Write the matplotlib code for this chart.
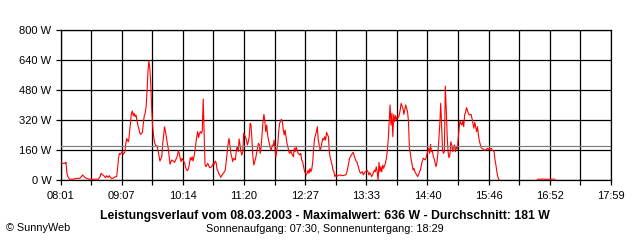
import matplotlib
matplotlib.use("Agg")
import matplotlib.pyplot as plt
import numpy as np

# ---- data (minutes after midnight, watts) ----
times_main = [481,483,486,487,488,489,491,495,498,502,504,505,507,510,513,518,522,524,525,526,
528,529,530,531,533,534,536,538,540,542,543,544,545,546,548,549,550,551,552,553,
554,555,556,557,558,559,560,561,562,563,564,565,566,567,568,570,571,572,573,574,
575,576,577,578,579,580,581,582,583,584,585,586,587,588,589,591,592,593,594,595,
596,597,598,599,600,601,602,604,605,606,607,608,609,610,611,612,613,614,616,617,
618,619,620,621,622,623,624,625,626,627,629,630,631,632,633,634,635,636,637,638,
639,640,641,642,643,644,646,647,648,649,650,651,652,653,654,655,656,658,659,660,
661,662,663,664,665,666,667,668,669,671,672,673,674,675,676,677,678,679,680,681,
683,684,685,686,687,688,689,690,691,692,693,694,696,697,698,699,700,701,702,703,
704,705,706,707,709,710,711,712,713,714,715,716,717,718,719,721,722,723,724,725,
726,727,728,729,730,731,732,734,735,736,737,738,739,740,741,742,743,744,746,747,
748,749,750,751,752,753,754,755,756,757,759,760,761,762,763,764,765,766,767,768,
769,770,772,773,774,775,776,777,778,779,780,781,782,784,786,788,790,791,792,793,
794,795,797,798,799,800,801,802,803,804,805,806,807,809,810,811,812,813,814,815,
816,817,818,819,820,822,823,824,825,826,827,828,829,830,831,832,834,835,836,837,
838,839,840,841,842,843,844,845,846,847,848,849,850,851,852,853,854,856,857,858,
859,860,861,862,863,864,865,866,868,869,870,871,872,873,874,875,876,877,878,879,
881,882,883,884,885,886,887,888,889,890,891,893,894,895,896,897,898,899,900,901,
902,903,904,905,906,907,908,909,910,911,912,913,914,915,916,917,918,919,920,921,
922,923,924,925,927,928,929,930,931,932,933,934,935,936,937,938,940,941,942,943,
944,945,946,947,948,949,950,952,953,954,955,956,957,958]
watts_main = [94,89,89,94,36,18,4,4,9,9,20,27,16,7,4,4,4,18,36,30,
23,18,12,23,14,23,9,9,16,18,62,116,142,137,151,137,142,151,196,222,
208,204,258,302,356,368,343,356,338,347,320,293,276,254,243,254,302,343,356,391,
471,578,635,596,516,386,293,240,204,187,178,183,155,124,101,124,190,240,284,258,
231,196,169,124,84,98,107,98,94,107,116,130,155,142,116,98,116,107,89,66,
53,50,62,84,119,107,124,101,124,155,231,258,226,249,258,249,261,432,249,80,
71,80,89,76,66,66,76,89,84,101,94,59,48,33,27,14,23,36,44,53,
98,142,190,222,187,142,124,98,116,107,160,178,151,219,187,151,133,151,249,240,
213,187,204,231,302,293,213,124,80,98,116,142,196,187,142,178,249,311,350,311,
258,293,240,213,169,160,187,178,213,169,124,160,187,258,302,324,311,267,240,267,
231,196,178,151,142,155,142,124,169,151,178,160,142,140,133,142,107,98,48,36,
27,36,53,36,62,44,59,98,169,222,258,284,213,187,160,172,201,222,213,231,
213,254,231,151,119,101,80,53,44,18,27,18,23,27,25,23,27,27,41,62,
89,116,133,142,148,130,116,101,98,80,62,44,36,44,27,36,44,48,53,44,
27,39,30,18,27,53,44,71,44,0,94,44,71,44,80,62,89,116,155,213,
311,400,293,356,231,350,311,343,320,338,333,347,373,409,396,382,350,400,382,364,
311,169,142,107,80,53,62,44,27,18,30,44,53,80,101,116,112,107,116,137,
169,142,190,151,155,124,112,89,71,98,142,293,409,293,160,142,151,501,380,240,
151,119,133,204,187,151,178,187,151,178,165,222,276,315,302,293,315,284,347,361,
386,373,356,347,350,329,302,276,308,284,258,284,240,208,190,172,165,160,160,160,
165,169,160,169,165,169,160,151,107,80,44,18,4,0]
times_late = [999, 1002, 1005, 1008, 1011, 1014, 1018]
watts_late = [4, 4, 5, 4, 4, 5, 4]

x_start, x_end = 481, 1079          # 08:01 .. 17:59
time_labels = ['08:01', '09:07', '10:14', '11:20', '12:27', '13:33',
               '14:40', '15:46', '16:52', '17:59']
y_ticks = [0, 160, 320, 480, 640, 800]
y_labels = ['0 W', '160 W', '320 W', '480 W', '640 W', '800 W']
average = 181

title = 'Leistungsverlauf vom 08.03.2003 - Maximalwert: 636 W - Durchschnitt: 181 W'
subtitle = 'Sonnenaufgang: 07:30, Sonnenuntergang: 18:29'
credit = '\u00a9 SunnyWeb'

plt.rcParams['font.family'] = ['Liberation Sans', 'DejaVu Sans']

W, H = 640, 240
fig = plt.figure(figsize=(W / 100, H / 100), dpi=100)
fig.patch.set_facecolor('white')
ax = fig.add_axes([60.5 / W, (H - 180) / H, 550.5 / W, 150 / H])

xt = np.linspace(x_start, x_end, 19)
ax.set_xlim(x_start, x_end)
ax.set_ylim(0, 800)
ax.set_xticks(xt)
ax.set_xticklabels([time_labels[i // 2] if i % 2 == 0 else '' for i in range(19)])
ax.set_yticks(y_ticks)
ax.set_yticklabels(y_labels)
ax.grid(True, color='black', linewidth=0.9, zorder=1)
ax.set_axisbelow(True)
ax.tick_params(axis='both', length=3.6, width=0.9, color='black',
               labelsize=8, direction='out')
ax.tick_params(axis='x', pad=4.5)
ax.tick_params(axis='y', pad=3)
for s in ax.spines.values():
    s.set_linewidth(0.9)
    s.set_color('black')

ax.plot(times_main, watts_main, color='#ff0000', linewidth=0.8, zorder=3)
ax.plot(times_late, watts_late, color='#ff0000', linewidth=0.8, zorder=3)
ax.axhline(average, color='#808080', linewidth=0.9, zorder=4)

fig.text(324.5 / W, 1 - 216 / H, title, ha='center', va='center',
         fontsize=8.8, fontweight='bold')
fig.text(324.5 / W, 1 - 229 / H, subtitle, ha='center', va='center', fontsize=7.8)
fig.text(6 / W, 1 - 228 / H, credit, ha='left', va='center', fontsize=7.8)

fig.savefig('out.png', dpi=100, facecolor='white')
